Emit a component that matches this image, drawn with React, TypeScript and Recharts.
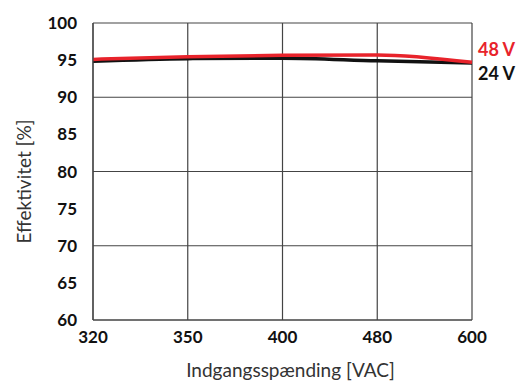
import { CartesianGrid, Line, LineChart, XAxis, YAxis } from 'recharts';

// Input voltage categories (evenly spaced on the chart, not linear)
const voltages = ['320', '350', '400', '480', '600'];
// Efficiency [%] per series
const eff48 = [95.1, 95.45, 95.65, 95.7, 94.7];
const eff24 = [94.85, 95.2, 95.25, 94.9, 94.6];
const yTicks = [60, 65, 70, 75, 80, 85, 90, 95, 100];
const gridValues = [60, 70, 80, 90, 100];

const RED = '#e8232b';
const BLACK = '#111111';
const FONT = 'Lato, "Open Sans", sans-serif';

const data = voltages.map((v, i) => ({ v, s48: eff48[i], s24: eff24[i] }));

// Only the last point gets a series label, sitting to the right of the plot.
function endLabel(text: string, color: string, dy: number) {
  return (props: any) => {
    if (props.index !== voltages.length - 1) return null;
    return (
      <text
        x={props.x + 6}
        y={props.y + dy}
        fill={color}
        fontFamily={FONT}
        fontWeight={700}
        fontSize={18}
        dominantBaseline="central"
      >
        {text}
      </text>
    );
  };
}

export default function App() {
  return (
    <div style={{ position: 'absolute', left: 0, top: 0, width: 528, height: 388, background: '#fff' }}>
      <LineChart width={528} height={388} data={data} margin={{ top: 23, right: 56, bottom: 38, left: 0 }}>
        <CartesianGrid stroke="#444" strokeWidth={1.2} horizontalValues={gridValues} />
        <XAxis
          dataKey="v"
          height={30}
          tickLine={false}
          tickSize={0}
          tickMargin={11}
          axisLine={{ stroke: '#444', strokeWidth: 1.2 }}
          tick={{ fill: '#111', fontFamily: FONT, fontWeight: 700, fontSize: 17 }}
          interval={0}
          label={{
            value: 'Indgangsspænding [VAC]',
            position: 'bottom',
            offset: 14,
            fill: '#333',
            fontFamily: FONT,
            fontSize: 19,
            dx: 8,
          }}
        />
        <YAxis
          type="number"
          domain={[60, 100]}
          ticks={yTicks}
          interval={0}
          width={93}
          tickLine={false}
          tickSize={0}
          tickMargin={16}
          axisLine={{ stroke: '#444', strokeWidth: 1.2 }}
          tick={{ fill: '#111', fontFamily: FONT, fontWeight: 700, fontSize: 17 }}
          label={{
            value: 'Effektivitet [%]',
            angle: -90,
            position: 'insideLeft',
            offset: 24,
            dy: 10,
            fill: '#333',
            fontFamily: FONT,
            fontSize: 19,
            style: { textAnchor: 'middle' },
          }}
        />
        <Line
          type="monotone"
          dataKey="s24"
          stroke={BLACK}
          strokeWidth={3.5}
          dot={false}
          isAnimationActive={false}
          label={endLabel('24 V', BLACK, 10)}
        />
        <Line
          type="monotone"
          dataKey="s48"
          stroke={RED}
          strokeWidth={3.5}
          dot={false}
          isAnimationActive={false}
          label={endLabel('48 V', RED, -13)}
        />
      </LineChart>
    </div>
  );
}
